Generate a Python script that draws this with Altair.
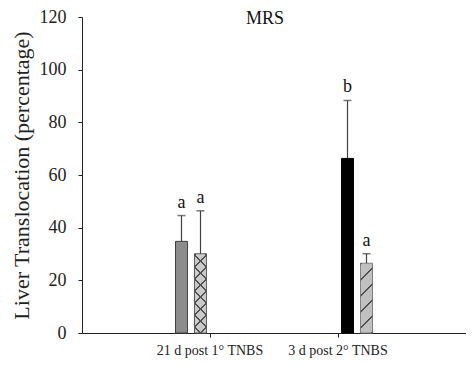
import math
import altair as alt
import pandas as pd

# ---- data ----
groups = ["21 d post 1° TNBS", "21 d post 1° TNBS", "3 d post 2° TNBS", "3 d post 2° TNBS"]
series = ["Series A", "Series B", "Series C", "Series D"]
means = [34.8, 30.1, 66.3, 26.5]
errors = [9.8, 16.3, 22.0, 3.6]
letters = ["a", "a", "b", "a"]
y_ticks = [0, 20, 40, 60, 80, 100, 120]

df = pd.DataFrame({
    "group": groups,
    "series": series,
    "mean": means,
    "upper": [m + e for m, e in zip(means, errors)],
    "letter": letters,
})

W, H = 384, 316
YMAX = 120
BAR_W = 12
FONT = "Liberation Serif"


def stripes(value, slope, period, color, frac=0.16, flip=False):
    """linear-gradient stripes: slope in screen px (dy/dx, + = '/' ), period = vertical px"""
    h = value * H / YMAX
    a = slope * BAR_W / h
    lam = (a + 1) / (a * a + 1)
    n = h * (a + 1) / period
    stops = []
    k = 0
    clear = "rgba(0,0,0,0)"
    while k / n < 1:
        s = k / n
        e = min(1.0, s + frac / n)
        nxt = min(1.0, (k + 1) / n)
        stops += [{"offset": s, "color": color}, {"offset": e, "color": color},
                  {"offset": e, "color": clear}, {"offset": nxt, "color": clear}]
        k += 1
    if flip:
        return {"gradient": "linear", "x1": 1, "y1": 0, "x2": 1 - lam * a, "y2": lam, "stops": stops}
    return {"gradient": "linear", "x1": 0, "y1": 0, "x2": lam * a, "y2": lam, "stops": stops}


x_enc = alt.X("group:N", sort=None,
              scale=alt.Scale(paddingOuter=0.5, paddingInner=0),
              axis=alt.Axis(title=None, labelAngle=0, labelFont=FONT, labelFontSize=14,
                            labelColor="#222", tickSize=4, tickColor="#222",
                            domainColor="#222", labelPadding=6))
xo_enc = alt.XOffset("series:N", scale=alt.Scale(domain=["_l"] + series + ["_r"],
                                                 paddingInner=0.37, paddingOuter=0.553))
y_enc = alt.Y("mean:Q", scale=alt.Scale(domain=[0, YMAX]),
              axis=alt.Axis(values=y_ticks, grid=False, title="Liver Translocation (percentage)",
                            titleFont=FONT, titleFontSize=22, titleFontWeight="normal",
                            titleColor="#222", labelFont=FONT, labelFontSize=18,
                            labelColor="#222", tickSize=4, tickColor="#222",
                            domainColor="#222", labelPadding=12, titlePadding=6))

base = alt.Chart(df)


def bar_layer(name, fill, stroke="#404040"):
    return base.transform_filter(alt.datum.series == name).mark_bar(
        fill=fill, stroke=stroke, strokeWidth=1).encode(x=x_enc, xOffset=xo_enc, y=y_enc)


def overlay(name, fill):
    return base.transform_filter(alt.datum.series == name).mark_bar(
        fill=fill, strokeWidth=0).encode(x=x_enc, xOffset=xo_enc, y=y_enc)


bA = bar_layer("Series A", "#8c8c8c")
bB = bar_layer("Series B", "#cacaca", "#606060")
bB1 = overlay("Series B", stripes(means[1], 1.0, 12, "#505050"))
bB2 = overlay("Series B", stripes(means[1], 1.0, 12, "#505050", flip=True))
bC = bar_layer("Series C", "#000000", "#000000")
bD = bar_layer("Series D", "#c0c0c0", "#808080")
bD1 = overlay("Series D", stripes(means[3], 1.0, 16, "#505050", frac=0.1))

err = base.mark_rule(color="#404040", strokeWidth=1.2).encode(
    x=x_enc, xOffset=xo_enc, y="mean:Q", y2="upper:Q")
cap = base.mark_tick(color="#404040", size=8, thickness=1.5).encode(
    x=x_enc, xOffset=xo_enc, y="upper:Q")
txt = base.mark_text(font=FONT, fontSize=18, baseline="bottom", dy=-4, color="#111").encode(
    x=x_enc, xOffset=xo_enc, y="upper:Q", text="letter:N")

chart = alt.layer(bA, bB, bB1, bB2, bC, bD, bD1, err, cap, txt).properties(
    width=W, height=H,
    autosize=alt.AutoSizeParams(type="none"),
    padding={"left": 74, "top": 9, "right": 0, "bottom": 30},
    title=alt.TitleParams("MRS", font=FONT, fontSize=18, fontWeight="normal", color="#111",
                          anchor="middle", frame="group", dx=-9, offset=-20),
).configure_view(stroke=None)

chart.save("out.html", embed_options={"renderer": "svg", "actions": False})
